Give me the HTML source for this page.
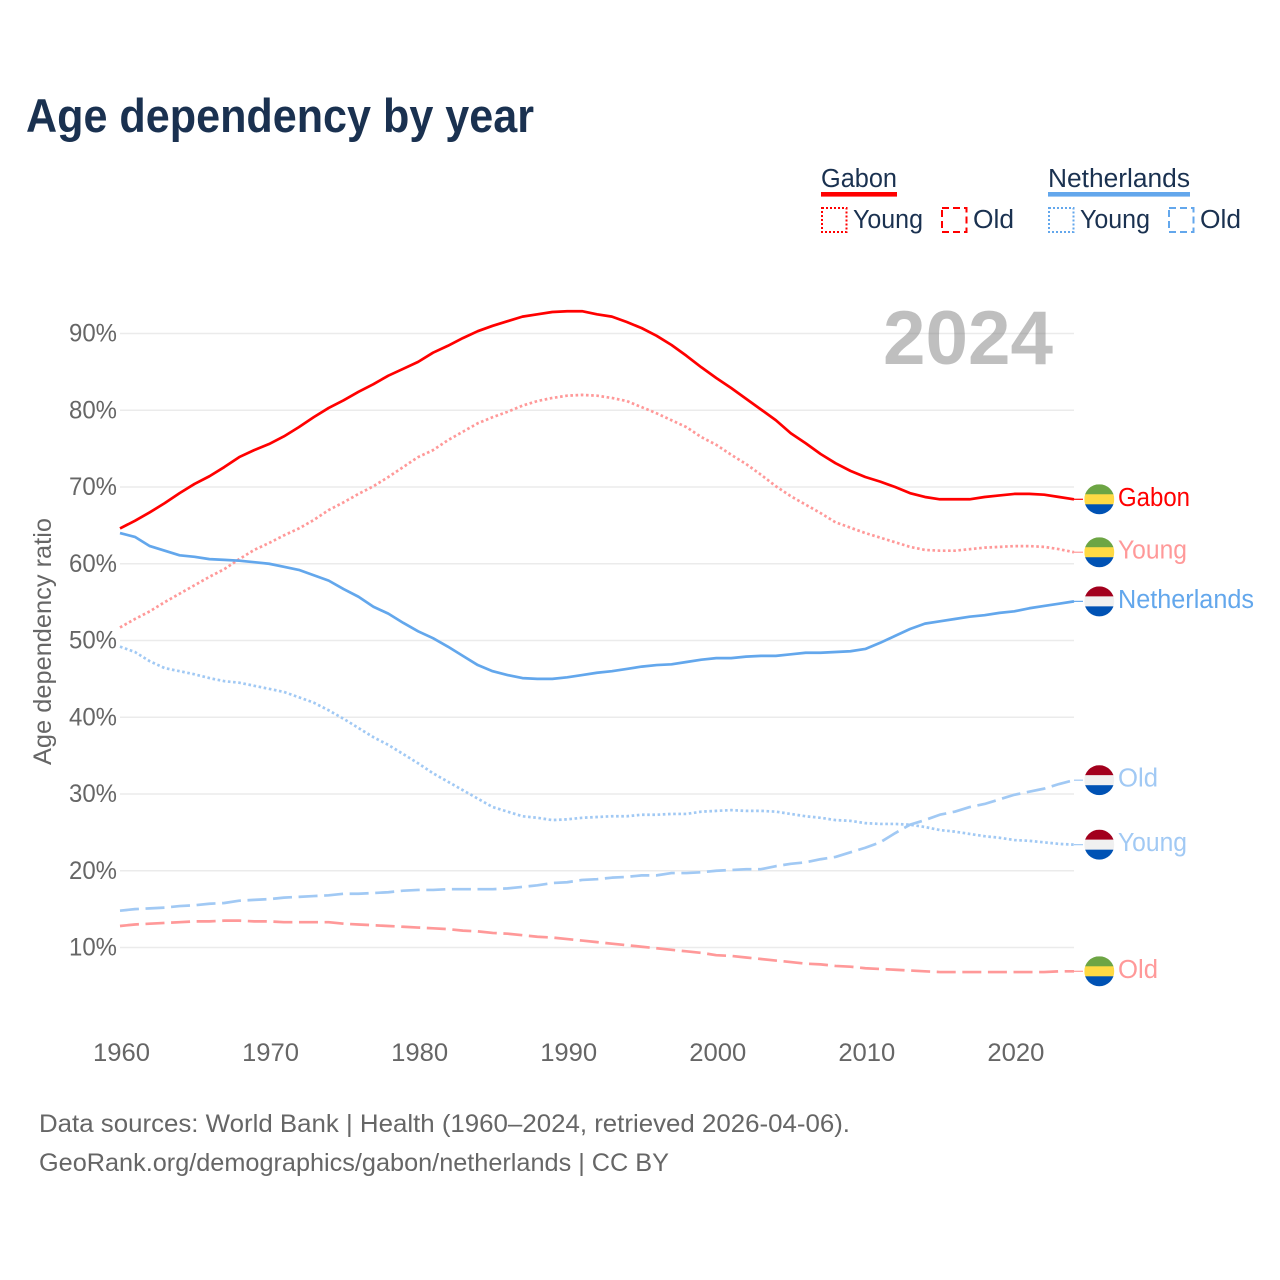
<!DOCTYPE html>
<html lang="en">
<head>
<meta charset="utf-8">
<title>Age dependency by year</title>
<style>
html,body{margin:0;padding:0;background:#fff;width:1280px;height:1280px;overflow:hidden}
svg{display:block;font-family:"Liberation Sans",sans-serif}
</style>
</head>
<body>
<svg id="chart" xmlns="http://www.w3.org/2000/svg" width="1280" height="1280" viewBox="0 0 1280 1280">
  <defs>
    <clipPath id="flag-clip"><circle cx="0" cy="0" r="15"/></clipPath>
  </defs>
  <rect x="0" y="0" width="1280" height="1280" fill="#ffffff"/>
  <text x="26" y="132" font-size="47" font-weight="700" fill="#1a3150" textLength="508" lengthAdjust="spacingAndGlyphs">Age dependency by year</text>

  <g font-size="25.5" fill="#1a3150">
    <g>
      <text x="821" y="187" textLength="76" lengthAdjust="spacingAndGlyphs">Gabon</text>
      <rect x="821" y="192" width="76" height="4.6" fill="#ff0000"/>
      <rect x="822" y="208" width="24.5" height="24" fill="none" stroke="#ff0000" stroke-width="2" stroke-dasharray="2 2"/>
      <text x="853" y="228" textLength="70" lengthAdjust="spacingAndGlyphs">Young</text>
      <rect x="942" y="208" width="24.5" height="24" fill="none" stroke="#ff0000" stroke-width="2" stroke-dasharray="7 4"/>
      <text x="973" y="228" textLength="41" lengthAdjust="spacingAndGlyphs">Old</text>
    </g>
    <g>
      <text x="1048" y="187" textLength="142" lengthAdjust="spacingAndGlyphs">Netherlands</text>
      <rect x="1048" y="192" width="142" height="4.6" fill="#63a7ec"/>
      <rect x="1049" y="208" width="24.5" height="24" fill="none" stroke="#63a7ec" stroke-width="2" stroke-dasharray="2 2"/>
      <text x="1080" y="228" textLength="70" lengthAdjust="spacingAndGlyphs">Young</text>
      <rect x="1169" y="208" width="24.5" height="24" fill="none" stroke="#63a7ec" stroke-width="2" stroke-dasharray="7 4"/>
      <text x="1200" y="228" textLength="41" lengthAdjust="spacingAndGlyphs">Old</text>
    </g>
  </g>

  <g id="grid"></g>
  <text x="883" y="364" font-size="76" font-weight="700" fill="#808080" fill-opacity="0.5" textLength="170" lengthAdjust="spacingAndGlyphs">2024</text>
  <g id="yaxis"></g>
  <g id="xaxis"></g>
  <text transform="translate(51,641.5) rotate(-90)" text-anchor="middle" font-size="25" fill="#666666" textLength="247" lengthAdjust="spacingAndGlyphs">Age dependency ratio</text>
  <g id="series"></g>
  <g id="endmarks"></g>

  <text x="39" y="1132" font-size="25" fill="#666666" textLength="811" lengthAdjust="spacingAndGlyphs">Data sources: World Bank | Health (1960–2024, retrieved 2026-04-06).</text>
  <text x="39" y="1171" font-size="25" fill="#666666" textLength="630" lengthAdjust="spacingAndGlyphs">GeoRank.org/demographics/gabon/netherlands | CC BY</text>
</svg>
<script>
const years = [1960,1961,1962,1963,1964,1965,1966,1967,1968,1969,
  1970,1971,1972,1973,1974,1975,1976,1977,1978,1979,
  1980,1981,1982,1983,1984,1985,1986,1987,1988,1989,
  1990,1991,1992,1993,1994,1995,1996,1997,1998,1999,
  2000,2001,2002,2003,2004,2005,2006,2007,2008,2009,
  2010,2011,2012,2013,2014,2015,2016,2017,2018,2019,
  2020,2021,2022,2023,2024];
const gabonTotal = [64.6,65.6,66.7,67.9,69.2,70.4,71.4,72.6,73.9,74.8,
  75.6,76.6,77.8,79.1,80.3,81.3,82.4,83.4,84.5,85.4,
  86.3,87.5,88.4,89.4,90.3,91.0,91.6,92.2,92.5,92.8,
  92.9,92.9,92.5,92.2,91.5,90.7,89.7,88.5,87.1,85.6,
  84.2,82.9,81.5,80.1,78.7,77.0,75.7,74.3,73.1,72.1,
  71.3,70.7,70.0,69.2,68.7,68.4,68.4,68.4,68.7,68.9,
  69.1,69.1,69.0,68.7,68.4];
const gabonYoung = [51.7,52.8,53.8,55.0,56.1,57.2,58.3,59.3,60.6,61.8,
  62.7,63.7,64.6,65.7,67.0,68.0,69.1,70.1,71.3,72.6,
  73.9,74.8,76.1,77.2,78.3,79.1,79.8,80.6,81.2,81.6,
  81.9,82.0,81.9,81.6,81.2,80.4,79.6,78.7,77.8,76.5,
  75.5,74.2,73.0,71.6,70.1,68.8,67.7,66.6,65.4,64.7,
  64.0,63.4,62.8,62.2,61.8,61.7,61.7,61.9,62.1,62.2,
  62.3,62.3,62.2,61.9,61.5];
const gabonOld = [12.8,13.0,13.1,13.2,13.3,13.4,13.4,13.5,13.5,13.4,
  13.4,13.3,13.3,13.3,13.3,13.1,13.0,12.9,12.8,12.7,
  12.6,12.5,12.4,12.2,12.1,11.9,11.8,11.6,11.4,11.3,
  11.1,10.9,10.7,10.5,10.3,10.1,9.9,9.7,9.5,9.3,
  9.0,8.9,8.7,8.5,8.3,8.1,7.9,7.8,7.6,7.5,
  7.3,7.2,7.1,7.0,6.9,6.8,6.8,6.8,6.8,6.8,
  6.8,6.8,6.8,6.9,6.9];
const netherlandsTotal = [64.0,63.5,62.3,61.7,61.1,60.9,60.6,60.5,60.4,60.2,
  60.0,59.6,59.2,58.5,57.8,56.7,55.7,54.4,53.5,52.3,
  51.2,50.3,49.2,48.0,46.8,46.0,45.5,45.1,45.0,45.0,
  45.2,45.5,45.8,46.0,46.3,46.6,46.8,46.9,47.2,47.5,
  47.7,47.7,47.9,48.0,48.0,48.2,48.4,48.4,48.5,48.6,
  48.9,49.7,50.6,51.5,52.2,52.5,52.8,53.1,53.3,53.6,
  53.8,54.2,54.5,54.8,55.1];
const netherlandsYoung = [49.2,48.5,47.3,46.4,46.0,45.6,45.1,44.7,44.5,44.1,
  43.7,43.3,42.6,41.9,40.9,39.8,38.6,37.4,36.4,35.2,
  34.0,32.7,31.6,30.5,29.4,28.3,27.7,27.1,26.9,26.6,
  26.7,26.9,27.0,27.1,27.1,27.3,27.3,27.4,27.4,27.7,
  27.8,27.9,27.8,27.8,27.7,27.4,27.1,26.9,26.6,26.5,
  26.2,26.1,26.1,26.0,25.7,25.3,25.1,24.8,24.5,24.3,
  24.0,23.9,23.7,23.5,23.4];
const netherlandsOld = [14.8,15.0,15.1,15.2,15.4,15.5,15.7,15.8,16.1,16.2,
  16.3,16.5,16.6,16.7,16.8,17.0,17.0,17.1,17.2,17.4,
  17.5,17.5,17.6,17.6,17.6,17.6,17.7,17.9,18.1,18.4,
  18.5,18.8,18.9,19.1,19.2,19.4,19.4,19.7,19.7,19.8,
  20.0,20.1,20.2,20.2,20.6,20.9,21.1,21.5,21.8,22.4,
  23.0,23.7,24.9,26.0,26.6,27.3,27.7,28.3,28.7,29.3,
  29.9,30.3,30.7,31.3,31.8];
const yTickValues = [10,20,30,40,50,60,70,80,90];
const yTickLabels = ['10%','20%','30%','40%','50%','60%','70%','80%','90%'];
const xTickValues = [1960,1970,1980,1990,2000,2010,2020];
const xTickLabels = ['1960','1970','1980','1990','2000','2010','2020'];

const NS = 'http://www.w3.org/2000/svg';
function xScale(year){ return 120 + (year - 1960) * (954 / 64); }
function yScale(value){ return 947.5 - (value - 10) * 7.675; }
function node(tag, parent){
  const el = document.createElementNS(NS, tag);
  parent.appendChild(el);
  return el;
}

const gridGroup = document.getElementById('grid');
const yAxisGroup = document.getElementById('yaxis');
const xAxisGroup = document.getElementById('xaxis');
const seriesGroup = document.getElementById('series');
const endGroup = document.getElementById('endmarks');

yTickValues.forEach(function(v, i){
  const line = node('line', gridGroup);
  
  
  line.setAttribute('x1', 120);
  line.setAttribute('x2', 1074);
  line.setAttribute('y1', yScale(v));
  line.setAttribute('y2', yScale(v));
  line.setAttribute('stroke', '#ebebeb');
  line.setAttribute('stroke-width', 1.5);
  const label = node('text', yAxisGroup);
  
  
  label.setAttribute('x', 69);
  label.setAttribute('y', yScale(v) + 8);
  label.setAttribute('font-size', 25);
  label.setAttribute('fill', '#666666');
  label.setAttribute('textLength', 48);
  label.setAttribute('lengthAdjust', 'spacingAndGlyphs');
  label.textContent = yTickLabels[i];
});

xTickValues.forEach(function(t, i){
  const label = node('text', xAxisGroup);
  
  
  label.setAttribute('x', xScale(t) + 1.5);
  label.setAttribute('y', 1061);
  label.setAttribute('text-anchor', 'middle');
  label.setAttribute('font-size', 25);
  label.setAttribute('fill', '#666666');
  label.setAttribute('textLength', 57);
  label.setAttribute('lengthAdjust', 'spacingAndGlyphs');
  label.textContent = xTickLabels[i];
});

const DOT = '2.6 2.6';
const DASH = '19 6.6';
function drawSeries(name, values, color, dash){
  const d = values.map(function(v, i){
    return (i ? 'L' : 'M') + xScale(years[i]).toFixed(2) + ' ' + yScale(v).toFixed(2);
  }).join('');
  const path = node('path', seriesGroup);
  
  
  path.setAttribute('d', d);
  path.setAttribute('fill', 'none');
  path.setAttribute('stroke', color);
  path.setAttribute('stroke-width', 2.7);
  path.setAttribute('stroke-linejoin', 'round');
  if (dash) path.setAttribute('stroke-dasharray', dash);
  const last = yScale(values[values.length - 1]);
  const link = node('line', seriesGroup);
  
  
  link.setAttribute('x1', 1074);
  link.setAttribute('x2', 1083);
  link.setAttribute('y1', last);
  link.setAttribute('y2', last);
  link.setAttribute('stroke', color);
  link.setAttribute('stroke-width', 1.2);
}

const gabonBands = ['#6da544', '#ffda44', '#0052b4'];
const netherlandsBands = ['#a2001d', '#f0f0f0', '#0052b4'];
function drawEnd(name, values, bands, text, color, width){
  const cy = yScale(values[values.length - 1]);
  const flag = node('g', endGroup);
  
  
  flag.setAttribute('transform', 'translate(1099.3,' + cy + ')');
  flag.setAttribute('clip-path', 'url(#flag-clip)');
  bands.forEach(function(c, i){
    const r = node('rect', flag);
    r.setAttribute('x', -15);
    r.setAttribute('y', -15 + i * 10);
    r.setAttribute('width', 30);
    r.setAttribute('height', 10.2);
    r.setAttribute('fill', c);
  });
  const label = node('text', endGroup);
  
  
  label.setAttribute('x', 1118);
  label.setAttribute('y', cy + 6.5);
  label.setAttribute('font-size', 25.5);
  label.setAttribute('fill', color);
  label.setAttribute('textLength', width);
  label.setAttribute('lengthAdjust', 'spacingAndGlyphs');
  label.textContent = text;
}

drawSeries('line-netherlands-old', netherlandsOld, '#a1c9f4', DASH);
drawSeries('line-netherlands-young', netherlandsYoung, '#a1c9f4', DOT);
drawSeries('line-gabon-old', gabonOld, '#ff9999', DASH);
drawSeries('line-gabon-young', gabonYoung, '#ff9999', DOT);
drawSeries('line-netherlands-total', netherlandsTotal, '#63a7ec', null);
drawSeries('line-gabon-total', gabonTotal, '#ff0000', null);

drawEnd('gabon-total', gabonTotal, gabonBands, 'Gabon', '#ff0000', 72);
drawEnd('gabon-young', gabonYoung, gabonBands, 'Young', '#ff9999', 69);
drawEnd('netherlands-total', netherlandsTotal, netherlandsBands, 'Netherlands', '#63a7ec', 136);
drawEnd('netherlands-old', netherlandsOld, netherlandsBands, 'Old', '#a1c9f4', 40);
drawEnd('netherlands-young', netherlandsYoung, netherlandsBands, 'Young', '#a1c9f4', 69);
drawEnd('gabon-old', gabonOld, gabonBands, 'Old', '#ff9999', 40);
</script>
</body>
</html>
